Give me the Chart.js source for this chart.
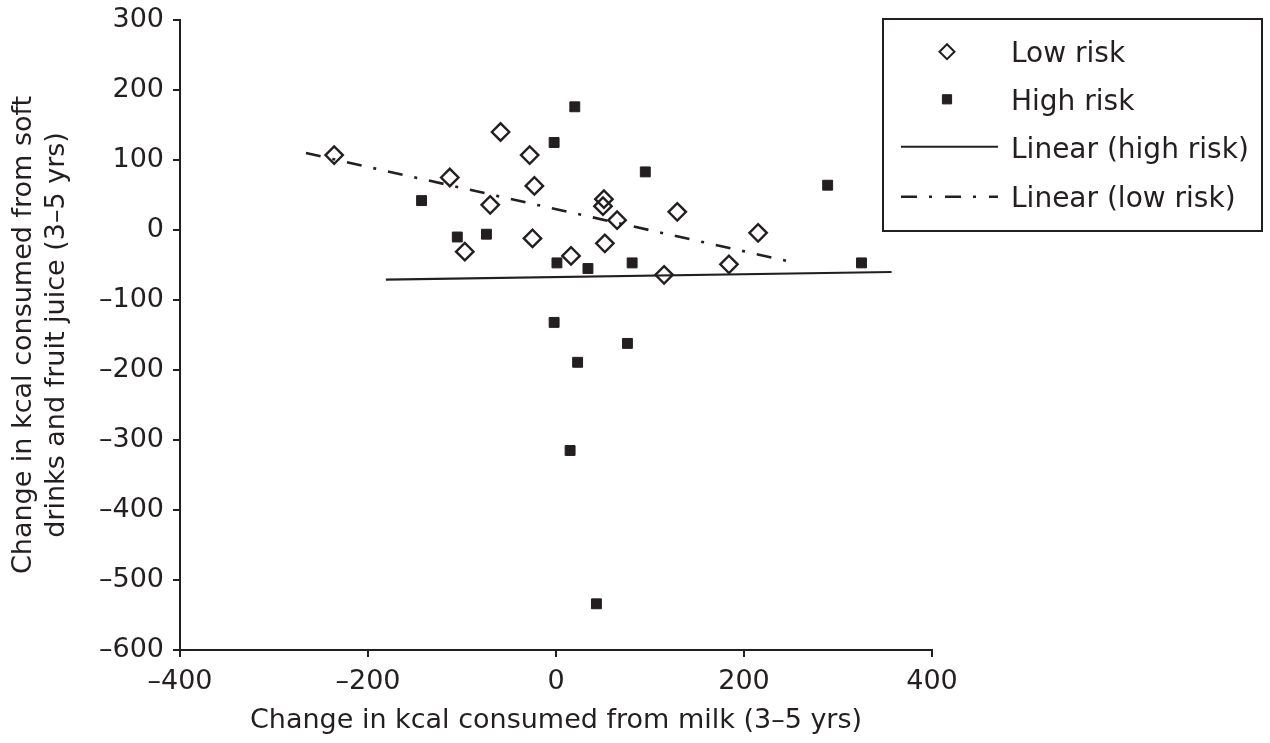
<!DOCTYPE html>
<html>
<head>
<meta charset="utf-8">
<script src="https://cdn.jsdelivr.net/npm/chart.js@4.4.1/dist/chart.umd.min.js"></script>
<style>
html,body{margin:0;padding:0;background:#fff;}
canvas{display:block;}
</style>
</head>
<body>
<canvas id="c" width="1270" height="743"></canvas>
<script>
// ---- data ----
const lowRiskX  = [-236, -59, -28, -23, -113, -70, -25, -97, 16, 51, 50, 65, 52, 129, 115, 184, 215];
const lowRiskY  = [ 107, 140, 107,  63,   75,  36, -12, -31, -37, 44, 34, 14, -19, 26, -64, -49, -4];
const highRiskX = [20, -2, -143, -105, -74, 1, 34, 95, 289, 81, 325, -2, 76, 23, 15, 43];
const highRiskY = [176, 125, 42, -10, -6, -47, -55, 83, 64, -47, -47, -132, -162, -189, -315, -534];
const highTrendX = [-181, 357];
const highTrendY = [-71, -60];
const lowTrendX  = [-266, 245];
const lowTrendY  = [110, -44];
const xTicks = [-400, -200, 0, 200, 400];
const yTicks = [300, 200, 100, 0, -100, -200, -300, -400, -500, -600];
const seriesLabels = ['Low risk', 'High risk', 'Linear (high risk)', 'Linear (low risk)'];
const xTitle = 'Change in kcal consumed from milk (3–5 yrs)';
const yTitle = ['Change in kcal consumed from soft', 'drinks and fruit juice (3–5 yrs)'];

// ---- styling ----
const INK = '#231f20';
const FONT = '"DejaVu Sans", "Liberation Sans", sans-serif';
const LOW_DASH = [15, 12, 3, 12];

const pts = (xs, ys) => xs.map((x, i) => ({x: x, y: ys[i]}));
const fmt = v => String(v).replace('-', '\u2013');

const legendPlugin = {
  id: 'boxLegend',
  afterDraw(chart) {
    const ctx = chart.ctx;
    const H = Chart.helpers;
    ctx.save();
    ctx.lineWidth = 2;
    ctx.strokeStyle = INK;
    ctx.strokeRect(883, 19, 379, 212);
    ctx.font = '28px ' + FONT;
    ctx.fillStyle = INK;
    ctx.textBaseline = 'alphabetic';
    ctx.textAlign = 'left';
    const baselines = [61.7, 109.5, 157.5, 206.5];
    const mids = [51.7, 99.3, 146.7, 196.7];
    ctx.strokeStyle = INK;
    ctx.fillStyle = 'rgba(0,0,0,0)';
    H.drawPoint(ctx, {pointStyle: 'rectRot', radius: 7.5, borderWidth: 2.2, rotation: 0}, 947, mids[0]);
    ctx.fillStyle = INK;
    ctx.lineWidth = 1;
    H.drawPoint(ctx, {pointStyle: 'rect', radius: 6.5, borderWidth: 1, rotation: 0}, 947, mids[1]);
    ctx.lineWidth = 2;
    ctx.beginPath(); ctx.moveTo(901, mids[2]); ctx.lineTo(998, mids[2]); ctx.stroke();
    ctx.lineWidth = 2.5;
    ctx.setLineDash([16, 12, 3, 13]);
    ctx.beginPath(); ctx.moveTo(901, mids[3]); ctx.lineTo(998, mids[3]); ctx.stroke();
    ctx.setLineDash([]);
    ctx.fillStyle = INK;
    seriesLabels.forEach((t, i) => ctx.fillText(t, 1011, baselines[i]));
    ctx.restore();
  }
};

new Chart(document.getElementById('c'), {
  type: 'scatter',
  data: {
    datasets: [
      {
        label: seriesLabels[2], data: pts(highTrendX, highTrendY), showLine: true,
        borderColor: INK, borderWidth: 2.2, pointRadius: 0, fill: false, order: 0
      },
      {
        label: seriesLabels[3], data: pts(lowTrendX, lowTrendY), showLine: true,
        borderColor: INK, borderWidth: 2.6, borderDash: LOW_DASH, pointRadius: 0, fill: false, order: 0
      },
      {
        label: seriesLabels[0], data: pts(lowRiskX, lowRiskY),
        pointStyle: 'rectRot', pointRadius: 8.7, pointBorderWidth: 2.4,
        pointBorderColor: INK, pointBackgroundColor: 'rgba(0,0,0,0)', order: 1
      },
      {
        label: seriesLabels[1], data: pts(highRiskX, highRiskY),
        pointStyle: 'rect', pointRadius: 7, pointBorderWidth: 1,
        pointBorderColor: INK, pointBackgroundColor: INK, order: 1
      }
    ]
  },
  options: {
    responsive: false,
    animation: false,
    devicePixelRatio: 1,
    layout: {padding: {left: 0, right: 338, top: 20, bottom: 0}},
    plugins: {legend: {display: false}, tooltip: {enabled: false}},
    scales: {
      x: {
        type: 'linear', min: -400, max: 400,
        afterBuildTicks: s => { s.ticks = xTicks.map(v => ({value: v})); },
        afterFit: s => { s.height = 93; s.paddingLeft = 0; s.paddingRight = 0; },
        border: {display: true, color: INK, width: 2},
        grid: {display: true, drawOnChartArea: false, drawTicks: true, tickLength: 7, color: INK, lineWidth: 2},
        ticks: {color: INK, font: {family: FONT, size: 27}, padding: 9, maxRotation: 0, autoSkip: false, callback: v => fmt(v)},
        title: {display: true, text: xTitle, color: INK, font: {family: FONT, size: 27, lineHeight: 1.2}, padding: {top: 0, bottom: 6}}
      },
      y: {
        type: 'linear', min: -600, max: 300,
        afterBuildTicks: s => { s.ticks = yTicks.map(v => ({value: v})); },
        afterFit: s => { s.width = 180; s.paddingTop = 0; s.paddingBottom = 0; },
        border: {display: true, color: INK, width: 2},
        grid: {display: true, drawOnChartArea: false, drawTicks: true, tickLength: 7, color: INK, lineWidth: 2},
        ticks: {color: INK, font: {family: FONT, size: 27}, padding: 9, autoSkip: false, callback: v => fmt(v)},
        title: {display: true, text: yTitle, color: INK, font: {family: FONT, size: 27, lineHeight: 1.237}, padding: {top: 7, bottom: 0}}
      }
    }
  },
  plugins: [legendPlugin]
});
</script>
</body>
</html>
